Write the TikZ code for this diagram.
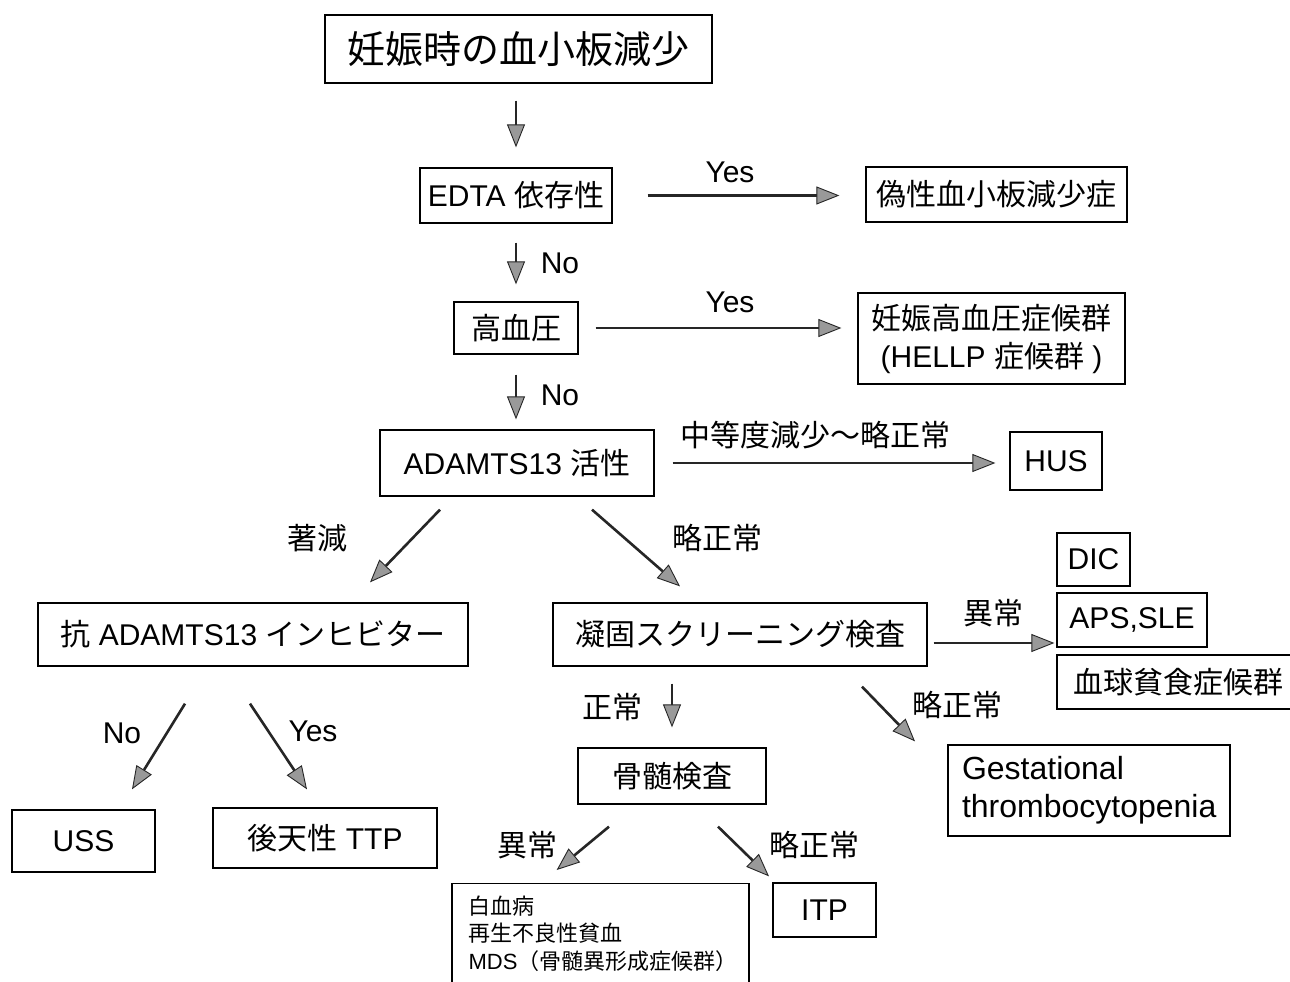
\documentclass[tikz,border=0pt]{standalone}
\usepackage{fontspec}
\setmainfont{Liberation Sans}
\newfontfamily\jp{Noto Sans CJK JP}
\usetikzlibrary{arrows.meta,calc}
\begin{document}
\begin{tikzpicture}[x=1pt,y=-1pt,
  box/.style={draw=black,line width=1.3pt,inner sep=0pt,font=\fontsize{30}{38}\selectfont,align=center},
  bx/.style 2 args={box,minimum width=#1,minimum height=#2},
  lbl/.style={font=\fontsize{30}{38}\selectfont,inner sep=0pt},
  arr/.style={draw=black!85,line width=2.6pt,-{Triangle[length=23pt,width=18pt,fill=black!40,line width=0.9pt]}}
]
\useasboundingbox (0,0) rectangle (1290,982);
\fill[white] (0,0) rectangle (1290,982);

% nodes
\node[bx={387pt}{68pt},font=\fontsize{38}{44}\selectfont] (title) at (518.5,49) {\jp 妊娠時の血小板減少};
\node[bx={192pt}{55pt}] (edta) at (516,195.5) {EDTA {\jp 依存性}};
\node[bx={261pt}{55pt}] (gisei) at (996.5,194.5) {\jp 偽性血小板減少症};
\node[bx={124pt}{52pt}] (kbp) at (516,328) {\jp 高血圧};
\node[bx={267pt}{91pt}] (nin) at (991.5,338.5) {{\jp 妊娠高血圧症候群}\\(HELLP {\jp 症候群} )};
\node[bx={274pt}{66pt}] (ad) at (517,463) {ADAMTS13 {\jp 活性}};
\node[bx={92pt}{58pt}] (hus) at (1056,461) {HUS};
\node[bx={430pt}{63pt}] (anti) at (253,634.5) {{\jp 抗} ADAMTS13 {\jp インヒビター}};
\node[bx={374pt}{63pt}] (gyoko) at (740,634.5) {\jp 凝固スクリーニング検査};
\node[bx={73pt}{53pt}] (dic) at (1093.5,559.5) {DIC};
\node[bx={150pt}{54pt}] (aps) at (1132,620) {APS,SLE};
\node[bx={243pt}{54pt}] (hlh) at (1178.5,682) {\jp 血球貧食症候群};
\node[bx={188pt}{56pt}] (kotsu) at (672,776) {\jp 骨髄検査};
\node[box,font=\fontsize{32}{38}\selectfont,align=left,text width=254pt,inner xsep=14pt,minimum height=91pt] (gest) at (1089,790.5) {Gestational\\thrombocytopenia};
\node[bx={143pt}{62pt}] (uss) at (83.5,841) {USS};
\node[bx={224pt}{60pt}] (ttp) at (325,838) {{\jp 後天性} TTP};
\node[box,font=\fontsize{22}{27.5}\selectfont,align=left,text width=264pt,inner xsep=16pt,minimum height=100pt,anchor=north west] (hak) at (452,883) {{\jp 白血病}\\{\jp 再生不良性貧血}\\MDS{\jp （骨髄異形成症候群）}};
\draw[line width=1.3pt] (hak.north west) -- ++(0,110) (hak.north east) -- ++(0,110);
\node[bx={103pt}{54pt}] (itp) at (824.5,910) {ITP};

% connectors
\draw[arr,shorten <=17pt,shorten >=20pt] (title.south -| edta.north) -- (edta.north);
\draw[arr,shorten <=35pt,shorten >=26pt] (edta.east) -- (edta.east -| gisei.west);
\draw[arr,shorten <=19pt,shorten >=17pt] (edta.south) -- (kbp.north);
\draw[arr,shorten <=17pt,shorten >=16pt] (kbp.east) -- (kbp.east -| nin.west);
\draw[arr,shorten <=20pt,shorten >=10pt] (kbp.south) -- (kbp.south |- ad.north);
\draw[arr,shorten <=18pt,shorten >=14pt] (ad.east) -- (ad.east -| hus.west);
\draw[arr] ($(ad.south)+(-77,13)$) -- ($(anti.north)+(117,-20)$);
\draw[arr] ($(ad.south)+(75,13)$) -- ($(gyoko.north)+(-60,-16)$);
\draw[arr] ($(gyoko.east)+(6,8.5)$) -- ($(gyoko.east -| aps.west)+(-2,8.5)$);
\draw[arr] ($(gyoko.south -| kotsu.north)+(0,17)$) -- ($(kotsu.north)+(0,-20)$);
\draw[arr] ($(gyoko.south)+(122,20)$) -- ($(gest.north)+(-174,-3)$);
\draw[arr] ($(anti.south)+(-68,37)$) -- ($(uss.north)+(48.5,-20)$);
\draw[arr] ($(anti.south)+(-3,37)$) -- ($(ttp.north)+(-18,-18)$);
\draw[arr] ($(kotsu.south)+(-63,22)$) -- ($(hak.north)+(-44,-13)$);
\draw[arr] ($(kotsu.south)+(46,22)$) -- ($(itp.north)+(-55.5,-6)$);

% labels
\node[lbl] (l1) at (730,172) {Yes};
\node[lbl] (l2) at (560,263) {No};
\node[lbl] (l3) at (730,302) {Yes};
\node[lbl] (l4) at (560,395) {No};
\node[lbl] (l5) at (815,435) {\jp 中等度減少～略正常};
\node[lbl] (l6) at (317,538) {\jp 著減};
\node[lbl] (l7) at (717,538) {\jp 略正常};
\node[lbl] (l8) at (993,613) {\jp 異常};
\node[lbl] (l9) at (612,707) {\jp 正常};
\node[lbl] (l10) at (957,705) {\jp 略正常};
\node[lbl] (l11) at (122,733) {No};
\node[lbl] (l12) at (313,731) {Yes};
\node[lbl] (l13) at (527,845) {\jp 異常};
\node[lbl] (l14) at (814,845) {\jp 略正常};
\end{tikzpicture}
\end{document}
